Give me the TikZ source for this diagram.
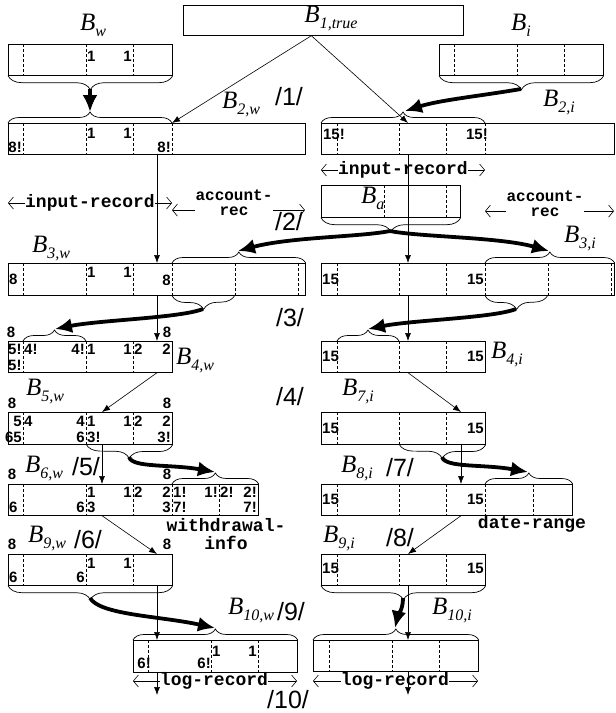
\documentclass[tikz,border=0pt]{standalone}
\usepackage{fontspec}
\setmainfont{Liberation Serif}
\setsansfont{Liberation Sans}
\setmonofont{Liberation Mono}
\usetikzlibrary{arrows.meta,decorations.pathreplacing}

\newcommand{\bsub}[1]{\textit{B}\raisebox{-6pt}{\fontsize{16}{16}\selectfont\textit{#1}}}

\tikzset{
  bufbox/.style={draw, line width=0.7pt, anchor=north west, inner sep=0pt, minimum height=31pt},
  fld/.style={dash pattern=on 3pt off 2pt, line width=0.5pt},
  num/.style={font=\sffamily\bfseries\fontsize{15}{15}\selectfont, inner sep=0pt},
  blab/.style={font=\fontsize{25}{25}\selectfont, inner sep=0pt},
  stp/.style={font=\sffamily\fontsize{25}{25}\selectfont, inner sep=0pt},
  rec/.style={font=\ttfamily\bfseries\fontsize{18}{18}\selectfont, inner sep=0pt, text height=11pt, text depth=3pt},
  recs/.style={font=\ttfamily\bfseries\fontsize{16}{15}\selectfont, inner sep=0pt, align=center},
  spanl/.style={{Straight Barb[length=5pt,width=12pt]}-, line width=0.6pt},
  ptr/.style={-{Latex[length=8pt,width=6pt]}, line width=0.6pt},
  mv/.style={-{Latex[length=17pt,width=15pt]}, line width=3.8pt},
  bru/.style={decorate, decoration={brace, amplitude=11pt}, line width=0.7pt},
  brd/.style={decorate, decoration={brace, amplitude=14pt, mirror}, line width=0.7pt},
}

\begin{document}
\begin{tikzpicture}[x=1pt,y=-1pt]
        \useasboundingbox (0,0) rectangle (616,713);
        %% record boundaries and tracks
        \coordinate (rw0) at (8,0);
        \coordinate (rw1) at (172,0);
        \coordinate (rw2) at (305,0);
        \coordinate (ri0) at (321,0);
        \coordinate (ri1) at (485,0);
        \coordinate (ri2) at (614,0);
        \coordinate (lw0) at (133,0);
        \coordinate (lw1) at (297,0);
        \coordinate (li0) at (313,0);
        \coordinate (li1) at (478,0);
        \coordinate (wtr) at (157,0);
        \coordinate (wtr2) at (102,0);
        \coordinate (itr) at (408,0);
        \coordinate (itr2) at (461,0);
        \coordinate (wout) at (157,695);
        \coordinate (iout) at (408,695);

        %% buffers
        \node[bufbox, minimum width=280pt, minimum height=30pt] (b1) at (183,5) {};
        \node[bufbox, minimum width=164pt] (bw) at (8,44) {};
        \node[bufbox, minimum width=164pt] (bi) at (439,44) {};
        \node[bufbox, minimum width=297pt] (b2w) at (8,123) {};
        \node[bufbox, minimum width=293pt] (b2i) at (321,123) {};
        \node[bufbox, minimum width=139pt, minimum height=32pt] (ba) at (321,185) {};
        \node[bufbox, minimum width=297pt, minimum height=32pt] (b3w) at (8,263) {};
        \node[bufbox, minimum width=293pt, minimum height=32pt] (b3i) at (321,263) {};
        \node[bufbox, minimum width=164pt, minimum height=31pt] (b4w) at (8,341) {};
        \node[bufbox, minimum width=164pt, minimum height=31pt] (b4i) at (321,341) {};
        \node[bufbox, minimum width=164pt, minimum height=32pt] (b5w) at (8,412) {};
        \node[bufbox, minimum width=164pt, minimum height=32pt] (b7i) at (321,412) {};
        \node[bufbox, minimum width=250pt] (b6w) at (8,484) {};
        \node[bufbox, minimum width=251pt] (b8i) at (321,484) {};
        \node[bufbox, minimum width=164pt] (b9w) at (8,554) {};
        \node[bufbox, minimum width=164pt] (b9i) at (321,554) {};
        \node[bufbox, minimum width=164pt, minimum height=32pt] (b10w) at (133,640) {};
        \node[bufbox, minimum width=165pt] (b10i) at (313,640) {};

        %% fields
        \foreach \x in {23,86,133} \draw[fld] (\x,44) -- ++(0,31);
        \foreach \x in {454,517,564} \draw[fld] (\x,44) -- ++(0,31);
        \foreach \x in {23,86,133,172} \draw[fld] (\x,123) -- ++(0,31);
        \foreach \x in {337,399,446,485} \draw[fld] (\x,123) -- ++(0,31);
        \foreach \x in {384,446} \draw[fld] (\x,185) -- ++(0,32);
        \foreach \x in {23,86,133,172,235,298} \draw[fld] (\x,263) -- ++(0,32);
        \foreach \x in {337,399,446,485,548,611} \draw[fld] (\x,263) -- ++(0,32);
        \foreach \x in {23,86,133} \draw[fld] (\x,341) -- ++(0,31);
        \foreach \x in {337,399,446} \draw[fld] (\x,341) -- ++(0,31);
        \foreach \x in {23,86,133} \draw[fld] (\x,412) -- ++(0,32);
        \foreach \x in {337,399,446} \draw[fld] (\x,412) -- ++(0,32);
        \foreach \x in {23,86,133,172,219} \draw[fld] (\x,484) -- ++(0,31);
        \foreach \x in {337,399,446,485,533} \draw[fld] (\x,484) -- ++(0,31);
        \foreach \x in {23,86,133} \draw[fld] (\x,554) -- ++(0,31);
        \foreach \x in {337,399,446} \draw[fld] (\x,554) -- ++(0,31);
        \foreach \x in {148,211,258} \draw[fld] (\x,640) -- ++(0,32);
        \foreach \x in {329,392,439} \draw[fld] (\x,640) -- ++(0,31);

        %% buffer names
        \node[blab] (l1) at (331,19) {\bsub{1,true}};
        \node[blab] (lw) at (93,25) {\bsub{w}};
        \node[blab] (li) at (521,25) {\bsub{i}};
        \node[blab] (l2w) at (241,105) {\bsub{2,w}};
        \node[blab] (l2i) at (559,103) {\bsub{2,i}};
        \node[blab, anchor=west] (la) at (361,198) {\bsub{a}};
        \node[blab] (l3w) at (51,249) {\bsub{3,w}};
        \node[blab] (l3i) at (580,239) {\bsub{3,i}};
        \node[blab] (l4w) at (195,361) {\bsub{4,w}};
        \node[blab] (l4i) at (507,355) {\bsub{4,i}};
        \node[blab] (l5w) at (45,392) {\bsub{5,w}};
        \node[blab] (l7i) at (358,392) {\bsub{7,i}};
        \node[blab] (l6w) at (44,469) {\bsub{6,w}};
        \node[blab] (l8i) at (357,469) {\bsub{8,i}};
        \node[blab] (l9w) at (47,539) {\bsub{9,w}};
        \node[blab] (l9i) at (339,539) {\bsub{9,i}};
        \node[blab] (l10w) at (251,611) {\bsub{10,w}};
        \node[blab] (l10i) at (452,611) {\bsub{10,i}};

        %% steps
        \node[stp] (s1) at (289,97) {/1/};
        \node[stp] (s2) at (289,222) {/2/};
        \node[stp] (s3) at (290,318) {/3/};
        \node[stp] (s4) at (290,397) {/4/};
        \node[stp] (s5) at (86,467) {/5/};
        \node[stp] (s6) at (88,540) {/6/};
        \node[stp] (s7) at (400,468) {/7/};
        \node[stp] (s8) at (400,538) {/8/};
        \node[stp] (s9) at (291,612) {/9/};
        \node[stp] (s10) at (288,700) {/10/};

        %% pointers
        \foreach \x/\y/\a/\t [count=\k] in {87/56/west/1, 132/56/east/1}
            \node[num,anchor=\a] (nw\k) at (\x,\y) {\t};
        \foreach \x/\y/\a/\t [count=\k] in {87/133/west/1, 132/133/east/1, 22/147/east/8!, 171/147/east/8!}
            \node[num,anchor=\a] (n2w\k) at (\x,\y) {\t};
        \foreach \x/\y/\a/\t [count=\k] in {345/134/east/15!, 488/134/east/15!}
            \node[num,anchor=\a] (n2i\k) at (\x,\y) {\t};
        \foreach \x/\y/\a/\t [count=\k] in {9/279/west/8, 87/272/west/1, 132/272/east/1, 171/280/east/8}
            \node[num,anchor=\a] (n3w\k) at (\x,\y) {\t};
        \foreach \x/\y/\a/\t [count=\k] in {322/279/west/15, 484/279/east/15}
            \node[num,anchor=\a] (n3i\k) at (\x,\y) {\t};
        \foreach \x/\y/\a/\t [count=\k] in {11/332/center/8, 167/332/center/8, 8/349/west/5!, 24/349/west/4!, 85/349/east/4!, 87/349/west/1, 132/349/east/1, 134/349/west/2, 171/349/east/2, 8/365/west/5!}
            \node[num,anchor=\a] (n4w\k) at (\x,\y) {\t};
        \foreach \x/\y/\a/\t [count=\k] in {322/356/west/15, 484/356/east/15}
            \node[num,anchor=\a] (n4i\k) at (\x,\y) {\t};
        \foreach \x/\y/\a/\t [count=\k] in {12/403/center/8, 167/403/center/8, 22/421/east/5, 24/421/west/4, 85/421/east/4, 87/421/west/1, 132/421/east/1, 134/421/west/2, 171/421/east/2, 22/437/east/65, 85/437/east/6, 87/437/west/3!, 171/437/east/3!}
            \node[num,anchor=\a] (n5w\k) at (\x,\y) {\t};
        \foreach \x/\y/\a/\t [count=\k] in {322/428/west/15, 484/428/east/15}
            \node[num,anchor=\a] (n7i\k) at (\x,\y) {\t};
        \foreach \x/\y/\a/\t [count=\k] in {12/474/center/8, 167/474/center/8, 87/492/west/1, 132/492/east/1, 134/492/west/2, 171/492/east/2, 173/492/west/1!, 218/492/east/1!, 220/492/west/2!, 257/492/east/2!, 9/507/west/6, 85/507/east/6, 87/507/west/3, 171/507/east/3, 173/507/west/7!, 257/507/east/7!}
            \node[num,anchor=\a] (n6w\k) at (\x,\y) {\t};
        \foreach \x/\y/\a/\t [count=\k] in {322/499/west/15, 484/499/east/15}
            \node[num,anchor=\a] (n8i\k) at (\x,\y) {\t};
        \foreach \x/\y/\a/\t [count=\k] in {12/544/center/8, 167/544/center/8, 87/563/west/1, 132/563/east/1, 9/577/west/6, 85/577/east/6}
            \node[num,anchor=\a] (n9w\k) at (\x,\y) {\t};
        \foreach \x/\y/\a/\t [count=\k] in {322/568/west/15, 484/568/east/15}
            \node[num,anchor=\a] (n9i\k) at (\x,\y) {\t};
        \foreach \x/\y/\a/\t [count=\k] in {212/651/west/1, 257/651/east/1, 151/663/east/6!, 211/663/east/6!}
            \node[num,anchor=\a] (n10w\k) at (\x,\y) {\t};

        %% record names
        \node[rec] (irw) at (90,203) {input-record};
        \draw[spanl] (irw.west -| rw0) -- (irw.west);
        \draw[spanl] (irw.east -| rw1) -- (irw.east);
        \node[recs] (arw) at (234,203) {account-\\rec};
        \coordinate (arwy) at ([yshift=6pt]arw.south);
        \draw[spanl] (arwy -| rw1) -- (arwy -| arw.west);
        \draw[spanl] (arwy -| rw2) -- (arwy -| arw.east);
        \node[rec] (iri) at (403,170) {input-record};
        \draw[spanl] (iri.west -| ri0) -- (iri.west);
        \draw[spanl] (iri.east -| ri1) -- (iri.east);
        \node[recs] (ari) at (545,204) {account-\\rec};
        \coordinate (ariy) at ([yshift=6pt]ari.south);
        \draw[spanl] (ariy -| ri1) -- (ariy -| ari.west);
        \draw[spanl] (ariy -| ri2) -- (ariy -| ari.east);
        \node[rec] (wdi1) at (226,527) {withdrawal-};
        \node[rec] (wdi2) at (226,545) {info};
        \node[rec] (dtr) at (532,524) {date-range};
        \node[rec] (lrw) at (214,681) {log-record};
        \draw[spanl] (lrw.west -| lw0) -- (lrw.west);
        \draw[spanl] (lrw.east -| lw1) -- (lrw.east);
        \node[rec] (lri) at (395,681) {log-record};
        \draw[spanl] (lri.west -| li0) -- (lri.west);
        \draw[spanl] (lri.east -| li1) -- (lri.east);

        %% braces
        \draw[brd] (bw.south west) -- (bw.south east);
        \draw[bru] (b2w.north west) -- (b2w.north -| rw1);
        \draw[brd] (bi.south west) -- (bi.south east);
        \draw[bru] (b2i.north west) -- (b2i.north -| ri1);
        \draw[brd] (ba.south west) -- (ba.south east);
        \draw[bru] (b3w.north -| rw1) -- (b3w.north east);
        \draw[bru] (b3i.north -| ri1) -- (b3i.north east);
        \draw[brd] (b3w.south -| rw1) -- (235,295);
        \draw[brd] (b3i.south -| ri1) -- (548,295);
        \draw[bru] (23,341) -- (86,341);
        \draw[bru] (337,341) -- (399,341);
        \draw[brd] (86,444) -- (b5w.south east);
        \draw[bru] (b6w.north -| rw1) -- (b6w.north east);
        \draw[brd] (399,444) -- (b7i.south east);
        \draw[bru] (b8i.north -| ri1) -- (b8i.north east);
        \draw[brd] (b9w.south west) -- (b9w.south east);
        \draw[bru] (b10w.north west) -- (b10w.north east);
        \draw[brd] (b9i.south west) -- (b9i.south east);
        \draw[bru] (b10i.north west) -- (b10i.north east);

        %% brace tips
        \coordinate (bwt) at (90,89);
        \coordinate (b2wt) at (90,112);
        \coordinate (bit) at (521,89);
        \coordinate (b2it) at (405,111);
        \coordinate (bat) at (390,231);
        \coordinate (b3wt) at (238,251);
        \coordinate (b3it) at (549,251);
        \coordinate (b3wd) at (203,309);
        \coordinate (b4wt) at (55,329);
        \coordinate (b3id) at (516,309);
        \coordinate (b4it) at (368,329);
        \coordinate (b5wd) at (129,457);
        \coordinate (b6wt) at (215,472);
        \coordinate (b7id) at (442,457);
        \coordinate (b8it) at (528,472);
        \coordinate (b9wd) at (90,598);
        \coordinate (b10wt) at (215,628);
        \coordinate (b9id) at (403,598);
        \coordinate (b10it) at (395,628);

        %% moves
        \draw[mv] (bwt) -- (b2wt);
        \draw[mv] (bit) .. controls (480,96) and (440,100) .. (b2it);
        \draw[mv] (bat) .. controls (360,237) and (290,237) .. (b3wt);
        \draw[mv] (bat) .. controls (420,237) and (500,237) .. (b3it);
        \draw[mv] (b3wd) .. controls (180,318) and (100,320) .. (b4wt);
        \draw[mv] (b3id) .. controls (493,318) and (413,320) .. (b4it);
        \draw[mv] (b5wd) .. controls (132,468) and (170,464) .. (b6wt);
        \draw[mv] (b7id) .. controls (445,468) and (483,464) .. (b8it);
        \draw[mv] (b9wd) .. controls (100,615) and (160,616) .. (b10wt);
        \draw[mv] (b9id) .. controls (403,610) and (398,615) .. (b10it);

        %% pointers between buffers
        \draw[ptr] ([xshift=-12pt]b1.south) -- (b2w.north -| rw1);
        \draw[ptr] ([xshift=-12pt]b1.south) -- (b2i.north -| itr);
        \draw[ptr] (b2w.south -| wtr) -- (b3w.north -| wtr);
        \draw[ptr] (b3w.south -| wtr) -- (b4w.north -| wtr);
        \draw[ptr] (b2i.south -| itr) -- (b3i.north -| itr);
        \draw[ptr] (b3i.south -| itr) -- (b4i.north -| itr);
        \draw[ptr] (b4w.south -| wtr) -- (b5w.north -| wtr2);
        \draw[ptr] (b5w.south -| wtr2) -- (b6w.north -| wtr2);
        \draw[ptr] (b6w.south -| wtr2) -- (b9w.north -| wtr);
        \draw[ptr] (b9w.south -| wtr) -- (b10w.north -| wtr);
        \draw[ptr] (b10w.south -| wtr) -- (wout);
        \draw[ptr] (b4i.south -| itr) -- (b7i.north -| itr2);
        \draw[ptr] (b7i.south -| itr2) -- (b8i.north -| itr2);
        \draw[ptr] (b8i.south -| itr2) -- (b9i.north -| itr);
        \draw[ptr] (b9i.south -| itr) -- (b10i.north -| itr);
        \draw[ptr] (b10i.south -| itr) -- (iout);
    \end{tikzpicture}
\end{document}
